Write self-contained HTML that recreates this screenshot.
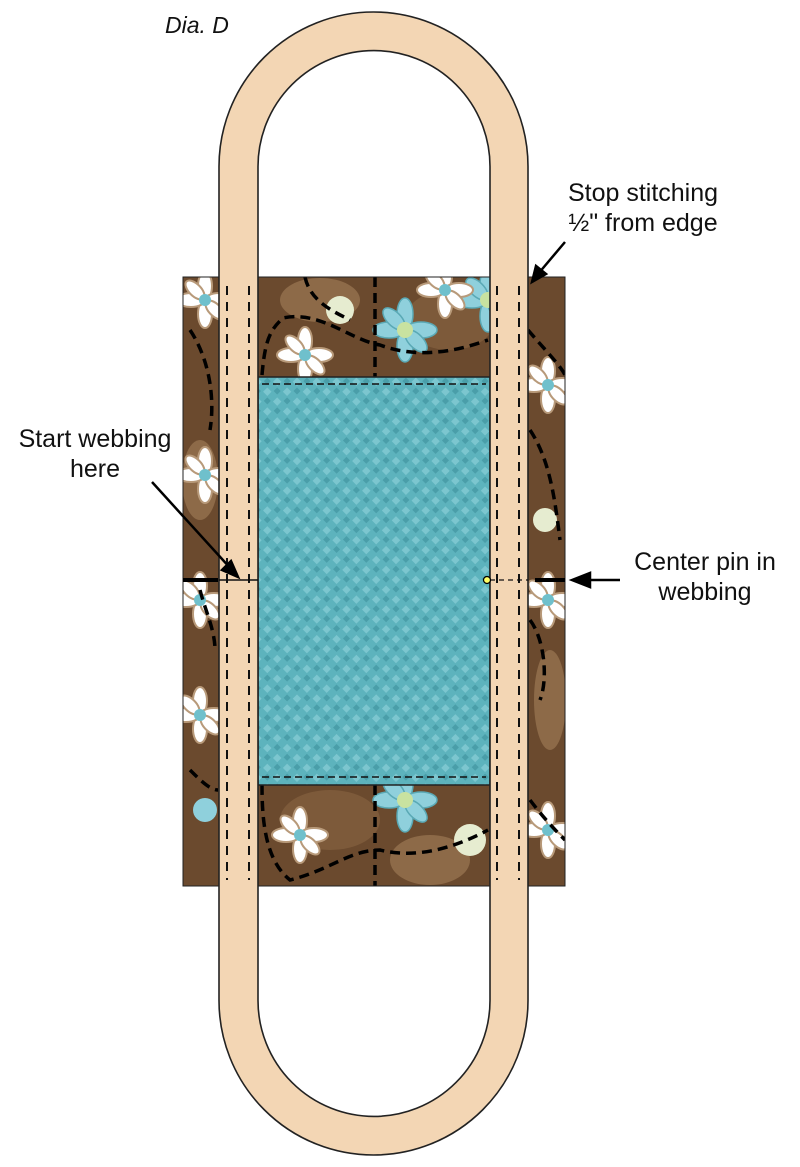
<!DOCTYPE html>
<html><head><meta charset="utf-8"><style>
html,body{margin:0;padding:0;background:#fff;width:800px;height:1167px;overflow:hidden}
svg{display:block}
text{font-family:"Liberation Sans",sans-serif;fill:#111}
</style></head><body>
<svg width="800" height="1167" viewBox="0 0 800 1167">
<defs>
<clipPath id="fc"><rect x="183" y="277" width="382" height="609"/></clipPath>
<pattern id="wv" width="14" height="14" patternUnits="userSpaceOnUse" patternTransform="rotate(45)">
<rect width="14" height="14" fill="#5db3bd"/>
<rect x="1" y="1" width="6" height="6" fill="#7cc6cf"/>
<rect x="8" y="8" width="5" height="5" fill="#4a9ea9"/>
</pattern>
<g id="fl">
<g fill="#fff" stroke="#b89a7a" stroke-width="2">
<ellipse cx="0" cy="-14" rx="7" ry="14"/><ellipse cx="0" cy="14" rx="7" ry="14"/>
<ellipse cx="-14" cy="0" rx="14" ry="7"/><ellipse cx="14" cy="0" rx="14" ry="7"/>
<ellipse cx="10" cy="10" rx="6" ry="12" transform="rotate(-45 10 10)"/>
<ellipse cx="-10" cy="-10" rx="6" ry="12" transform="rotate(-45 -10 -10)"/>
</g><circle r="6" fill="#6fc0cc"/></g>
<g id="bf">
<g fill="#8fd0dc" stroke="#5aa9b5" stroke-width="1.5">
<ellipse cx="0" cy="-16" rx="8" ry="16"/><ellipse cx="0" cy="16" rx="8" ry="16"/>
<ellipse cx="-16" cy="0" rx="16" ry="8"/><ellipse cx="16" cy="0" rx="16" ry="8"/>
<ellipse cx="11" cy="11" rx="7" ry="14" transform="rotate(-45 11 11)"/>
<ellipse cx="-11" cy="-11" rx="7" ry="14" transform="rotate(-45 -11 -11)"/>
</g><circle r="8" fill="#c8e2a0"/></g>
</defs>

<rect x="183" y="277" width="382" height="609" fill="#6b4a2e"/>
<g clip-path="url(#fc)">
<ellipse cx="320" cy="300" rx="40" ry="22" fill="#8d6a48"/>
<ellipse cx="450" cy="320" rx="45" ry="30" fill="#7d5a3a"/>
<ellipse cx="200" cy="480" rx="18" ry="40" fill="#8d6a48"/>
<ellipse cx="550" cy="700" rx="16" ry="50" fill="#8d6a48"/>
<ellipse cx="330" cy="820" rx="50" ry="30" fill="#7d5a3a"/>
<ellipse cx="430" cy="860" rx="40" ry="25" fill="#8d6a48"/>
<use href="#bf" x="405" y="330"/>
<use href="#bf" x="405" y="800"/>
<use href="#bf" x="488" y="300"/>
<use href="#fl" x="305" y="355"/>
<use href="#fl" x="205" y="300"/>
<use href="#fl" x="205" y="475"/>
<use href="#fl" x="200" y="715"/>
<use href="#fl" x="200" y="600"/>
<use href="#fl" x="300" y="835"/>
<use href="#fl" x="548" y="385"/>
<use href="#fl" x="548" y="600"/>
<use href="#fl" x="548" y="830"/>
<use href="#fl" x="445" y="290"/>
<circle cx="340" cy="310" r="14" fill="#e6ecd0"/>
<circle cx="470" cy="840" r="16" fill="#e6ecd0"/>
<circle cx="545" cy="520" r="12" fill="#e6ecd0"/>
<circle cx="205" cy="810" r="12" fill="#8fd0dc"/>
<g fill="none" stroke="#000" stroke-width="3.5" stroke-dasharray="10 6">
<path d="M375 277 V377"/>
<path d="M375 785 V886"/>
<path d="M262 375 C265 340 270 330 283 318 C320 310 350 340 380 345 C420 360 460 350 488 340"/>
<path d="M305 277 C310 300 330 310 350 320"/>
<path d="M262 785 C262 820 265 860 290 880 C330 870 350 850 380 850 C420 860 460 845 488 830"/>
<path d="M528 330 C545 350 560 365 565 375"/>
<path d="M530 430 C550 460 555 500 560 540"/>
<path d="M530 620 C545 640 548 680 540 700"/>
<path d="M530 800 C545 820 560 835 565 840"/>
<path d="M190 330 C210 360 215 400 210 430"/>
<path d="M190 770 C200 780 210 790 218 790"/>
<path d="M200 590 C205 610 215 630 215 650"/>
</g>
</g>
<rect x="183" y="277" width="382" height="609" fill="none" stroke="#222" stroke-width="1"/>

<rect x="258" y="377" width="232" height="408" fill="url(#wv)" stroke="#222" stroke-width="1.5"/>
<path d="M262 384 H486 M262 777 H486" stroke="#111" stroke-width="1.6" stroke-dasharray="7 4"/>

<path fill-rule="evenodd" fill="#f3d6b4" stroke="#222" stroke-width="1.6"
d="M219 166.5 A154.5 154.5 0 0 1 528 166.5 V1000.5 A154.5 154.5 0 0 1 219 1000.5 Z
M258 166.5 A116 116 0 0 1 490 166.5 V1000.5 A116 116 0 0 1 258 1000.5 Z"/>
<g stroke="#111" stroke-width="2" stroke-dasharray="9 7">
<path d="M227 286 V880 M249 286 V880 M497 286 V880 M519 286 V880"/>
</g>
<path d="M219 580 H258" stroke="#111" stroke-width="1.6"/>
<path d="M183 580 H218" stroke="#000" stroke-width="4"/>
<path d="M565 580 H535" stroke="#000" stroke-width="4"/>
<path d="M490 580 H528" stroke="#111" stroke-width="1.2" stroke-dasharray="5 4"/>
<circle cx="487" cy="580" r="3.5" fill="#ff6" stroke="#000" stroke-width="1.2"/>

<g stroke="#000" stroke-width="2.5" fill="#000">
<path d="M565 242 L538 274"/>
<path d="M532 282 L536 266 L546 274 Z"/>
<path d="M152 482 L232 570"/>
<path d="M238 577 L222 570 L231 561 Z"/>
<path d="M620 580 H585"/>
<path d="M572 580 L590 573 L590 587 Z"/>
</g>

<text x="165" y="33" font-size="23" font-style="italic">Dia. D</text>
<text x="643" y="201" font-size="25" text-anchor="middle">Stop stitching</text>
<text x="643" y="231" font-size="25" text-anchor="middle">½" from edge</text>
<text x="95" y="447" font-size="25" text-anchor="middle">Start webbing</text>
<text x="95" y="477" font-size="25" text-anchor="middle">here</text>
<text x="705" y="570" font-size="25" text-anchor="middle">Center pin in</text>
<text x="705" y="600" font-size="25" text-anchor="middle">webbing</text>
</svg>
</body></html>
